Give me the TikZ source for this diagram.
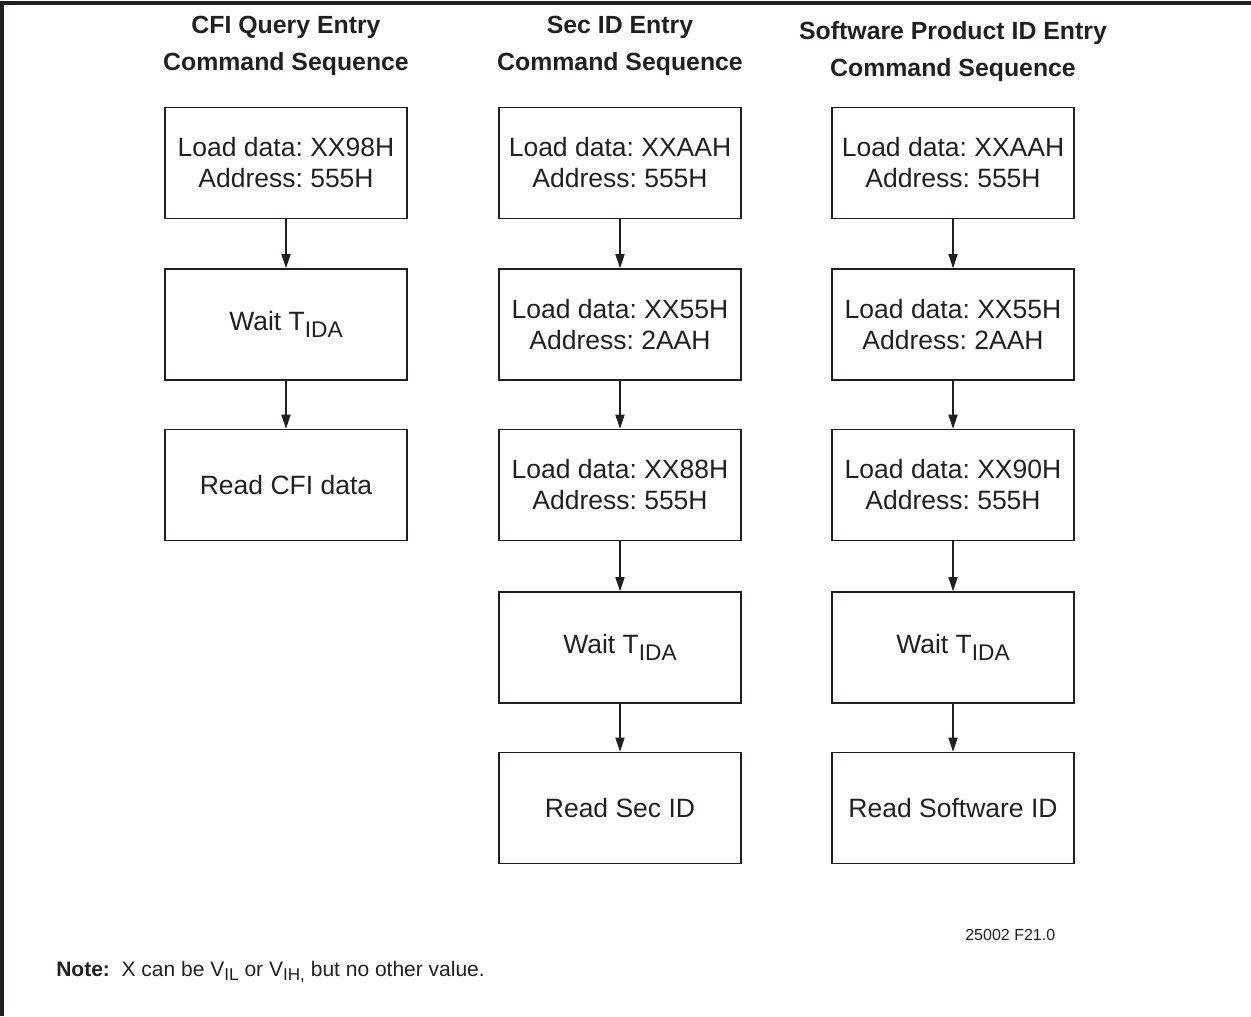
\documentclass[tikz,border=0pt]{standalone}
\usepackage{fontspec}
\setmainfont{Liberation Sans}
\usepackage{tikz}
\usetikzlibrary{arrows.meta}
\definecolor{ink}{HTML}{231F20}
\frenchspacing
\newcommand{\waittida}{Wait T\raisebox{-4pt}{\fontsize{13.6}{14}\selectfont IDA}}

\begin{document}
\begin{tikzpicture}[x=0.6pt,y=-0.6pt,
  cmdbox/.style={draw=ink,line width=0.9pt,minimum width=145pt,minimum height=66.6pt,
    inner sep=0pt,align=center,text=ink,font=\fontsize{15.9}{18.6}\selectfont},
  head/.style={align=center,text=ink,font=\bfseries\fontsize{14.9}{22.2}\selectfont},
  flow/.style={draw=ink,line width=0.7pt,-{Triangle[length=8.5pt,width=5.5pt]}}]
\useasboundingbox (0,0) rectangle (1251,1016);
\draw[ink,line width=2pt] (2,1016) -- (2,3) -- (1251,3);

% CFI query
\node[head] (h1) at (286,46) {CFI Query Entry\\Command Sequence};
\node[cmdbox] (a1) at (286,163) {Load data: XX98H\\Address: 555H};
\node[cmdbox] (a2) at (286,324.5) {\waittida};
\node[cmdbox] (a3) at (286,485) {Read CFI data};
\draw[flow] (a1) -- (a2);
\draw[flow] (a2) -- (a3);

% Sec ID
\node[head] (h2) at (620,46) {Sec ID Entry\\Command Sequence};
\node[cmdbox] (b1) at (620,163) {Load data: XXAAH\\Address: 555H};
\node[cmdbox] (b2) at (620,324.5) {Load data: XX55H\\Address: 2AAH};
\node[cmdbox] (b3) at (620,485) {Load data: XX88H\\Address: 555H};
\node[cmdbox] (b4) at (620,647.5) {\waittida};
\node[cmdbox] (b5) at (620,808) {Read Sec ID};
\draw[flow] (b1) -- (b2);
\draw[flow] (b2) -- (b3);
\draw[flow] (b3) -- (b4);
\draw[flow] (b4) -- (b5);

% Software product ID
\node[head] (h3) at (953,52) {Software Product ID Entry\\Command Sequence};
\node[cmdbox] (c1) at (953,163) {Load data: XXAAH\\Address: 555H};
\node[cmdbox] (c2) at (953,324.5) {Load data: XX55H\\Address: 2AAH};
\node[cmdbox] (c3) at (953,485) {Load data: XX90H\\Address: 555H};
\node[cmdbox] (c4) at (953,647.5) {\waittida};
\node[cmdbox] (c5) at (953,808) {Read Software ID};
\draw[flow] (c1) -- (c2);
\draw[flow] (c2) -- (c3);
\draw[flow] (c3) -- (c4);
\draw[flow] (c4) -- (c5);

\node[anchor=base west,inner sep=0pt,text=ink,font=\fontsize{9.6}{11}\selectfont] (fig) at (965,940) {25002 F21.0};
\node[anchor=base west,inner sep=0pt,text=ink,font=\fontsize{12.6}{14}\selectfont] (note) at (56,976)
  {\textbf{Note:}\ \ X can be V\raisebox{-2.8pt}{\fontsize{10.3}{11}\selectfont IL} or V\raisebox{-2.8pt}{\fontsize{10.3}{11}\selectfont IH,} but no other value.};
\end{tikzpicture}
\end{document}
